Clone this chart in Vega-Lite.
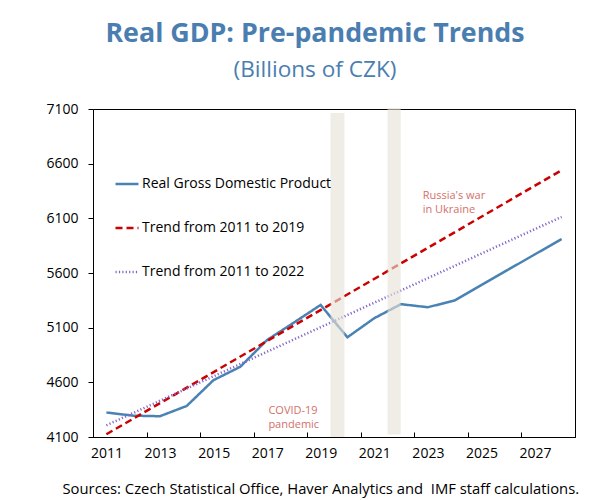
{
  "$schema": "https://vega.github.io/schema/vega-lite/v6.json",
  "autosize": "none",
  "width": 482,
  "height": 328,
  "padding": {"left": 93, "top": 109, "right": 35, "bottom": 63},
  "background": "white",
  "title": {
    "text": "Real GDP: Pre-pandemic Trends",
    "subtitle": "(Billions of CZK)",
    "font": "Open Sans",
    "fontSize": 26.8,
    "fontWeight": "bold",
    "color": "#4a7eb0",
    "subtitleFont": "Open Sans",
    "subtitleFontSize": 22.6,
    "subtitleColor": "#4a7eb0",
    "subtitlePadding": 12,
    "anchor": "middle",
    "dx": -19,
    "offset": 20
  },
  "config": {
    "view": {"stroke": "black", "strokeWidth": 1},
    "font": "Open Sans",
    "axis": {
      "domainColor": "black",
      "tickColor": "black",
      "labelColor": "black",
      "labelFont": "Open Sans",
      "labelFontSize": 14,
      "grid": false
    }
  },
  "datasets": {
    "series": [
      {"year": 2011, "value": 4324, "series": "Real Gross Domestic Product"},
      {"year": 2012, "value": 4295, "series": "Real Gross Domestic Product"},
      {"year": 2013, "value": 4290, "series": "Real Gross Domestic Product"},
      {"year": 2014, "value": 4384, "series": "Real Gross Domestic Product"},
      {"year": 2015, "value": 4620, "series": "Real Gross Domestic Product"},
      {"year": 2016, "value": 4742, "series": "Real Gross Domestic Product"},
      {"year": 2017, "value": 4987, "series": "Real Gross Domestic Product"},
      {"year": 2018, "value": 5146, "series": "Real Gross Domestic Product"},
      {"year": 2019, "value": 5308, "series": "Real Gross Domestic Product"},
      {"year": 2020, "value": 5012, "series": "Real Gross Domestic Product"},
      {"year": 2021, "value": 5186, "series": "Real Gross Domestic Product"},
      {"year": 2022, "value": 5315, "series": "Real Gross Domestic Product"},
      {"year": 2023, "value": 5287, "series": "Real Gross Domestic Product"},
      {"year": 2024, "value": 5348, "series": "Real Gross Domestic Product"},
      {"year": 2025, "value": 5490, "series": "Real Gross Domestic Product"},
      {"year": 2026, "value": 5630, "series": "Real Gross Domestic Product"},
      {"year": 2027, "value": 5770, "series": "Real Gross Domestic Product"},
      {"year": 2028, "value": 5911, "series": "Real Gross Domestic Product"},
      {"year": 2011, "value": 4125, "series": "Trend from 2011 to 2019"},
      {"year": 2028, "value": 6540, "series": "Trend from 2011 to 2019"},
      {"year": 2011, "value": 4207, "series": "Trend from 2011 to 2022"},
      {"year": 2028, "value": 6113, "series": "Trend from 2011 to 2022"}
    ],
    "bands": [
      {"start": 2019.37, "end": 2019.89, "bottom": 4100, "top": 7063},
      {"start": 2021.5, "end": 2021.99, "bottom": 4122, "top": 7110}
    ],
    "notes": [
      {"year": 2017.05, "value": 4338, "label": "COVID-19\npandemic"},
      {"year": 2022.81, "value": 6305, "label": "Russia's war\nin Ukraine"}
    ]
  },
  "layer": [
    {
      "data": {"name": "series"},
      "mark": {"type": "line", "clip": false},
      "encoding": {
        "x": {
          "field": "year",
          "type": "quantitative",
          "scale": {"domain": [2010.5, 2028.5], "nice": false, "zero": false},
          "axis": {
            "values": [2012.5, 2014.5, 2016.5, 2018.5, 2020.5, 2022.5, 2024.5, 2026.5, 2028.5],
            "labelExpr": "format(datum.value - 1.5, 'd')",
            "labelOffset": -40,
            "labelFlush": false,
            "labelOverlap": false,
            "labelBound": false,
            "tickSize": -5,
            "labelPadding": 14,
            "title": "Sources: Czech Statistical Office, Haver Analytics and\u00a0 IMF staff calculations.",
            "titleFont": "Open Sans",
            "titleFontSize": 14.8,
            "titleFontWeight": "normal",
            "titleColor": "black",
            "titleAnchor": "start",
            "titleAlign": "left",
            "titleBaseline": "alphabetic",
            "titleX": -31,
            "titleY": 56
          }
        },
        "y": {
          "field": "value",
          "type": "quantitative",
          "scale": {"domain": [4100, 7100], "nice": false, "zero": false},
          "axis": {
            "values": [4100, 4600, 5100, 5600, 6100, 6600, 7100],
            "format": "d",
            "tickSize": 5,
            "labelPadding": 10,
            "title": null
          }
        },
        "color": {
          "field": "series",
          "type": "nominal",
          "scale": {
            "domain": ["Real Gross Domestic Product", "Trend from 2011 to 2019", "Trend from 2011 to 2022"],
            "range": ["#4a82b4", "#cc0000", "#8566c9"]
          },
          "legend": {
            "orient": "none",
            "legendX": 21,
            "legendY": 62,
            "title": null,
            "padding": 0,
            "symbolType": "stroke",
            "symbolSize": 529,
            "symbolStrokeWidth": 2,
            "labelFont": "Open Sans",
            "labelFontSize": 14,
            "labelColor": "black",
            "labelOffset": 2,
            "labelLimit": 0,
            "rowPadding": 24
          }
        },
        "strokeDash": {
          "field": "series",
          "type": "nominal",
          "scale": {
            "domain": ["Real Gross Domestic Product", "Trend from 2011 to 2019", "Trend from 2011 to 2022"],
            "range": [[1, 0], [7, 4], [1.2, 2.2]]
          },
          "legend": {
            "orient": "none",
            "legendX": 21,
            "legendY": 62,
            "title": null,
            "padding": 0,
            "symbolType": "stroke",
            "symbolSize": 529,
            "symbolStrokeWidth": 2,
            "labelFont": "Open Sans",
            "labelFontSize": 14,
            "labelColor": "black",
            "labelOffset": 2,
            "labelLimit": 0,
            "rowPadding": 24
          }
        },
        "strokeWidth": {
          "field": "series",
          "type": "nominal",
          "scale": {
            "domain": ["Real Gross Domestic Product", "Trend from 2011 to 2019", "Trend from 2011 to 2022"],
            "range": [2.5, 2.5, 1.3]
          },
          "legend": null
        }
      }
    },
    {
      "data": {"name": "bands"},
      "mark": {"type": "rect", "color": "#e6e2d7", "opacity": 0.62},
      "encoding": {
        "x": {"field": "start", "type": "quantitative"},
        "x2": {"field": "end"},
        "y": {"field": "bottom", "type": "quantitative"},
        "y2": {"field": "top"}
      }
    },
    {
      "data": {"name": "notes"},
      "mark": {"type": "text", "align": "left", "baseline": "middle", "lineBreak": "\n", "lineHeight": 14, "fontSize": 11, "font": "Open Sans", "color": "#d4706a"},
      "encoding": {
        "x": {"field": "year", "type": "quantitative"},
        "y": {"field": "value", "type": "quantitative"},
        "text": {"field": "label"}
      }
    }
  ]
}
